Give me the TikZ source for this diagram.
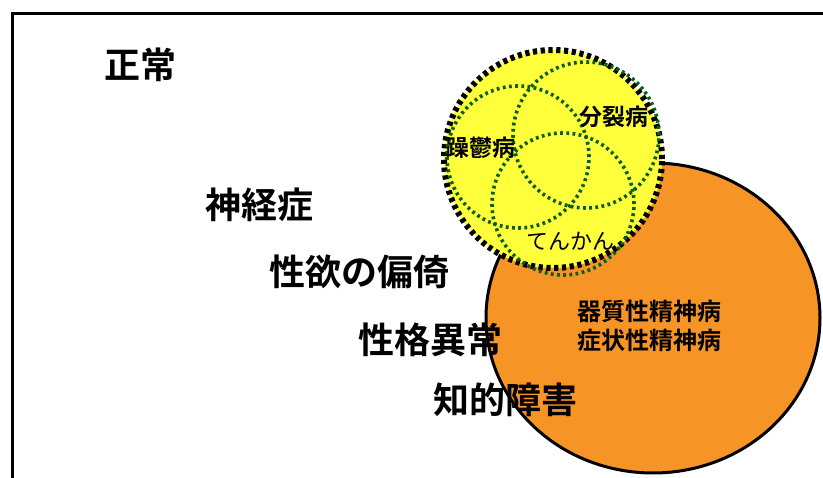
\documentclass[tikz,border=0pt]{standalone}
\usepackage{fontspec}
\setmainfont{Noto Sans CJK JP}[BoldFont={Noto Sans CJK JP Bold}]
\usetikzlibrary{shapes.geometric}
\definecolor{orangefill}{RGB}{246,148,38}
\definecolor{yellowfill}{RGB}{255,255,60}
\definecolor{dotgreen}{RGB}{10,95,20}
\tikzset{
  biglabel/.style={font=\bfseries\fontsize{36}{36}\selectfont, inner sep=0pt},
  smalllabel/.style={font=\bfseries\fontsize{23}{25}\selectfont, inner sep=0pt},
  greenring/.style={circle, draw=dotgreen, line width=3.6pt, dash pattern=on 2.8pt off 3.4pt, minimum size=142pt, inner sep=0pt},
}
\begin{document}
\begin{tikzpicture}[x=1pt,y=-1pt]
\useasboundingbox (0,0) rectangle (823,478);
\fill[white] (0,0) rectangle (823,478);
% frame
\draw[line width=3pt] (12.5,490) -- (12.5,13.5) -- (835,13.5);
% orange ellipse
\node[ellipse, draw=black, line width=3pt, fill=orangefill, minimum width=334pt, minimum height=310pt, inner sep=0pt] (organic) at (653,318) {};
% yellow circle
\node[circle, draw=black, fill=yellowfill, line width=6pt, dash pattern=on 4.2pt off 3.6pt, minimum size=218pt, inner sep=0pt] (functional) at (553,159) {};
% inner green circles
\node[greenring] (manic) at (518,157) {};
\node[greenring, minimum size=146pt] (schizo) at (586,135) {};
\node[greenring] (epilepsy) at (563,204) {};
% small labels
\node[smalllabel] (lschizo) at (614,117) {分裂病};
\node[smalllabel] (lmanic) at (481,148) {躁鬱病};
\node[smalllabel, font=\fontsize{22}{24}\selectfont] (lepilepsy) at (570,241) {てんかん};
\node[smalllabel, font=\bfseries\fontsize{24}{29}\selectfont, align=center] (lorganic) at (649,326) {器質性精神病\\症状性精神病};
% big labels
\node[biglabel] (normal) at (140,65) {正常};
\node[biglabel] (neurosis) at (259,205) {神経症};
\node[biglabel] (perversion) at (359,272) {性欲の偏倚};
\node[biglabel] (personality) at (430,340) {性格異常};
\node[biglabel] (intellect) at (505,400) {知的障害};
\end{tikzpicture}
\end{document}
